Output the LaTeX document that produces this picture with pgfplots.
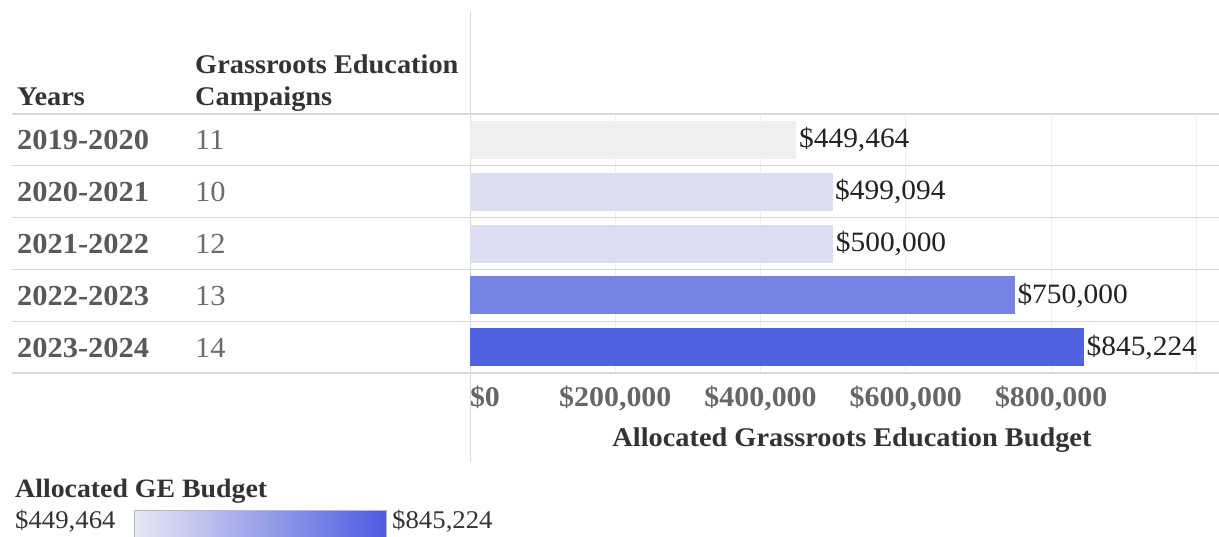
\documentclass[border=0pt]{standalone}
\usepackage{pgfplots}
\pgfplotsset{compat=1.18}
\usepackage{fontspec}
\setmainfont{Liberation Serif}[FakeStretch=1.05]
\definecolor{hdr}{HTML}{333333}
\definecolor{yr}{HTML}{595959}
\definecolor{cnt}{HTML}{6B6B6B}
\definecolor{tickc}{HTML}{666666}
\definecolor{labc}{HTML}{222222}
\definecolor{rowline}{HTML}{D9D9D9}
\definecolor{gridc}{HTML}{EFEFEF}
\definecolor{cA}{HTML}{EFEFEF}
\definecolor{cB}{HTML}{DCDFF0}
\definecolor{cC}{HTML}{DBDEF0}
\definecolor{cD}{HTML}{7582E6}
\definecolor{cE}{HTML}{4F62E0}
\begin{document}
\begin{tikzpicture}
\begin{axis}[
  at={(0pt,0pt)}, anchor=south west,
  scale only axis, width=1207pt, height=259pt,
  xmin=-630507, xmax=1031112,
  ymin=-0.5, ymax=4.5, y dir=reverse,
  axis line style={draw=none},
  major tick length=0pt,
  clip=false,
  xbar, bar width=38pt, bar shift=0pt,
  scaled x ticks=false,
  xtick={0,200000,400000,600000,800000},
  xticklabels={{\makebox[0pt][l]{\$0}},{\$200,000},{\$400,000},{\$600,000},{\$800,000}},
  xticklabel style={anchor=base, yshift=-34pt, text=tickc, font=\fontsize{28.5}{32}\selectfont\bfseries},
  xmajorgrids,
  major grid style={gridc, line width=1pt},
  extra x ticks={1000000},
  extra x tick labels={},
  extra x tick style={grid=major},
  ytick={0,1,2,3,4},
  yticklabels={
    {\makebox[178pt][l]{\bfseries 2019-2020}\textcolor{cnt}{11}},
    {\makebox[178pt][l]{\bfseries 2020-2021}\textcolor{cnt}{10}},
    {\makebox[178pt][l]{\bfseries 2021-2022}\textcolor{cnt}{12}},
    {\makebox[178pt][l]{\bfseries 2022-2023}\textcolor{cnt}{13}},
    {\makebox[178pt][l]{\bfseries 2023-2024}\textcolor{cnt}{14}}},
  yticklabel style={anchor=base west, inner sep=0pt, xshift=5pt, yshift=-10pt, text=yr, font=\fontsize{29}{34}\selectfont},
  extra y ticks={-0.5,0.5,1.5,2.5,3.5,4.5},
  extra y tick labels={},
  extra y tick style={grid=major, major grid style={rowline, line width=1.2pt}},
  point meta=explicit symbolic,
  nodes near coords,
  nodes near coords style={anchor=west, inner sep=2.5pt, text=labc, font=\fontsize{28}{32}\selectfont},
]
\draw[rowline, line width=1pt] (axis cs:0,-2.47) -- (axis cs:0,6.22);
\addplot[fill=cA, draw=none] coordinates {(449464,0) [\$449,464]};
\addplot[fill=cB, draw=none] coordinates {(499094,1) [\$499,094]};
\addplot[fill=cC, draw=none] coordinates {(500000,2) [\$500,000]};
\addplot[fill=cD, draw=none] coordinates {(750000,3) [\$750,000]};
\addplot[fill=cE, draw=none] coordinates {(845224,4) [\$845,224]};
\end{axis}
\begin{axis}[
  at={(122pt,-137pt)}, anchor=north west,
  scale only axis, width=252pt, height=27pt,
  xmin=449464, xmax=845224, ymin=0, ymax=1,
  xtick=\empty, ytick=\empty,
  axis line style={draw=gray!55, line width=0.8pt},
  axis on top,
  colormap={ge}{rgb255=(232,232,242) rgb255=(77,92,226)},
]
\addplot[patch, shader=interp, point meta=x] coordinates {(449464,0) (845224,0) (845224,1) (449464,0) (845224,1) (449464,1)};
\end{axis}
\node[anchor=base west, inner sep=0pt, text=hdr, font=\fontsize{27}{30}\selectfont\bfseries] at (5pt,267pt) {Years};
\node[anchor=base west, inner sep=0pt, text=hdr, font=\fontsize{27}{30}\selectfont\bfseries] at (183pt,299pt) {Grassroots Education};
\node[anchor=base west, inner sep=0pt, text=hdr, font=\fontsize{27}{30}\selectfont\bfseries] at (183pt,267pt) {Campaigns};
\node[anchor=base, inner sep=0pt, text=hdr, font=\fontsize{27}{30}\selectfont\bfseries] at (840pt,-74pt) {Allocated Grassroots Education Budget};
\node[anchor=base west, inner sep=0pt, text=hdr, font=\fontsize{26.5}{30}\selectfont\bfseries] at (3pt,-125pt) {Allocated GE Budget};
\node[anchor=base west, inner sep=0pt, text=hdr, font=\fontsize{25.5}{30}\selectfont] at (3pt,-156pt) {\$449,464};
\node[anchor=base west, inner sep=0pt, text=hdr, font=\fontsize{25.5}{30}\selectfont] at (380pt,-156pt) {\$845,224};
\pgfresetboundingbox
\path[use as bounding box] (-12pt,-164pt) rectangle (1207pt,373pt);
\end{tikzpicture}
\end{document}
